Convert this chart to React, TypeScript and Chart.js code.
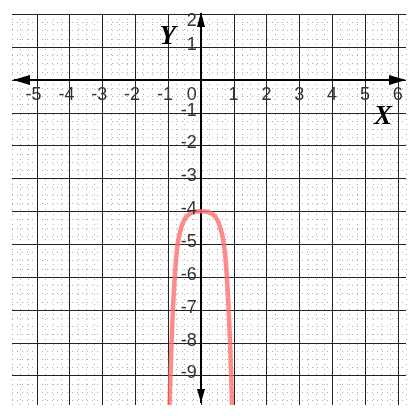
import React, { useEffect, useRef } from "react";
import { Chart, registerables } from "chart.js";

Chart.register(...registerables);

// Curve sample points
const curveX = [-0.96, -0.93, -0.9, -0.87, -0.84, -0.8, -0.76, -0.72, -0.68, -0.62, -0.55, -0.45, -0.3, -0.15, 0, 0.15, 0.3, 0.45, 0.55, 0.62, 0.68, 0.72, 0.76, 0.8, 0.84, 0.87, 0.9, 0.93, 0.96];
const curveY = [-10.26, -9.18, -8.25, -7.47, -6.81, -6.1, -5.54, -5.13, -4.86, -4.6, -4.37, -4.18, -4.06, -4.01, -4.0, -4.01, -4.06, -4.18, -4.37, -4.6, -4.86, -5.13, -5.54, -6.1, -6.81, -7.47, -8.25, -9.18, -10.26];

// Axis ranges and tick labels
const xRange = [-5.75, 6.25];
const yRange = [-9.9, 2];
const xTickLabels = [-5, -4, -3, -2, -1, 0, 1, 2, 3, 4, 5, 6];
const yTickLabels = [2, 1, -1, -2, -3, -4, -5, -6, -7, -8, -9];
const xMajor = [-5, -4, -3, -2, -1, 0, 1, 2, 3, 4, 5, 6];
const yMajor = [2, 1, 0, -1, -2, -3, -4, -5, -6, -7, -8, -9];
const minorStep = 0.25;

const gridPlugin = {
  id: "mathGrid",
  beforeDatasetsDraw(chart: any) {
    const { ctx, chartArea: a, scales } = chart;
    const xs = scales.x;
    const ys = scales.y;
    ctx.save();
    // minor dotted grid
    ctx.strokeStyle = "#b0b0b0";
    ctx.lineWidth = 1;
    ctx.setLineDash([1, 4]);
    for (let v = Math.ceil(xRange[0] / minorStep) * minorStep; v <= xRange[1] + 1e-9; v += minorStep) {
      const p = Math.round(xs.getPixelForValue(v)) + 0.5;
      ctx.beginPath();
      ctx.moveTo(p, a.top);
      ctx.lineTo(p, a.bottom);
      ctx.stroke();
    }
    for (let v = Math.ceil(yRange[0] / minorStep) * minorStep; v <= yRange[1] + 1e-9; v += minorStep) {
      const p = Math.round(ys.getPixelForValue(v)) + 0.5;
      ctx.beginPath();
      ctx.moveTo(a.left, p);
      ctx.lineTo(a.right, p);
      ctx.stroke();
    }
    ctx.setLineDash([]);
    // major grid
    ctx.strokeStyle = "#222";
    ctx.lineWidth = 1;
    xMajor.forEach((v) => {
      const p = Math.round(xs.getPixelForValue(v)) + 0.5;
      ctx.beginPath();
      ctx.moveTo(p, a.top);
      ctx.lineTo(p, a.bottom);
      ctx.stroke();
    });
    yMajor.forEach((v) => {
      const p = Math.round(ys.getPixelForValue(v)) + 0.5;
      ctx.beginPath();
      ctx.moveTo(a.left, p);
      ctx.lineTo(a.right, p);
      ctx.stroke();
    });
    // axes
    const x0 = Math.round(xs.getPixelForValue(0));
    const y0 = Math.round(ys.getPixelForValue(0));
    ctx.strokeStyle = "#000";
    ctx.fillStyle = "#000";
    ctx.lineWidth = 2;
    ctx.beginPath();
    ctx.moveTo(a.left + 2, y0);
    ctx.lineTo(a.right - 2, y0);
    ctx.stroke();
    ctx.beginPath();
    ctx.moveTo(x0, a.top - 1);
    ctx.lineTo(x0, a.bottom - 2);
    ctx.stroke();
    // arrowheads
    const L = 17, H = 5;
    ctx.beginPath();
    ctx.moveTo(a.left + 1, y0);
    ctx.lineTo(a.left + 1 + L, y0 - H);
    ctx.lineTo(a.left + 1 + L, y0 + H);
    ctx.closePath();
    ctx.fill();
    ctx.beginPath();
    ctx.moveTo(a.right, y0);
    ctx.lineTo(a.right - L, y0 - H);
    ctx.lineTo(a.right - L, y0 + H);
    ctx.closePath();
    ctx.fill();
    ctx.beginPath();
    ctx.moveTo(x0, a.top - 2);
    ctx.lineTo(x0 - 4, a.top + 13);
    ctx.lineTo(x0 + 4, a.top + 13);
    ctx.closePath();
    ctx.fill();
    ctx.beginPath();
    ctx.moveTo(x0, a.bottom - 2);
    ctx.lineTo(x0 - 4, a.bottom - 16);
    ctx.lineTo(x0 + 4, a.bottom - 16);
    ctx.closePath();
    ctx.fill();
    ctx.restore();
  },
  afterDatasetsDraw(chart: any) {
    const { ctx, scales } = chart;
    const xs = scales.x;
    const ys = scales.y;
    const x0 = xs.getPixelForValue(0);
    const y0 = ys.getPixelForValue(0);
    ctx.save();
    ctx.fillStyle = "#333";
    ctx.font = "18px 'Liberation Sans', Arial, sans-serif";
    ctx.textBaseline = "middle";
    ctx.textAlign = "right";
    xTickLabels.forEach((v) => {
      const p = xs.getPixelForValue(v);
      const px = v === 0 ? x0 - 4 : p + 5;
      ctx.fillText(String(v), px, y0 + 15);
    });
    yTickLabels.forEach((v) => {
      let py = ys.getPixelForValue(v) - 2;
      if (v === 2) py += 9;
      ctx.fillText(String(v), x0 - 4, py);
    });
    ctx.font = "bold italic 27px 'Liberation Serif', 'Times New Roman', serif";
    ctx.textAlign = "center";
    ctx.fillStyle = "#000";
    ctx.fillText("Y", x0 - 33, ys.getPixelForValue(1.3));
    ctx.fillText("X", xs.getPixelForValue(5.55), ys.getPixelForValue(-1.15));
    ctx.restore();
  },
};

export default function App() {
  const ref = useRef<HTMLCanvasElement | null>(null);
  useEffect(() => {
    document.body.style.margin = "0";
    const canvas = ref.current;
    if (!canvas) return;
    const chart = new Chart(canvas, {
      type: "scatter",
      data: {
        datasets: [
          {
            data: curveX.map((x, i) => ({ x, y: curveY[i] })),
            showLine: true,
            borderColor: "rgba(255, 110, 110, 0.8)",
            borderWidth: 4.5,
            pointRadius: 0,
            cubicInterpolationMode: "monotone",
            fill: false,
          },
        ],
      },
      options: {
        responsive: false,
        animation: false,
        layout: { padding: { left: 12, right: 13, top: 14, bottom: 11 } },
        plugins: { legend: { display: false }, tooltip: { enabled: false } },
        scales: {
          x: { type: "linear", min: xRange[0], max: xRange[1], display: false },
          y: { type: "linear", min: yRange[0], max: yRange[1], display: false },
        },
      },
      plugins: [gridPlugin],
    });
    return () => chart.destroy();
  }, []);
  return (
    <div style={{ width: 419, height: 416, background: "#fff" }}>
      <canvas ref={ref} width={419} height={416} style={{ display: "block" }} />
    </div>
  );
}
